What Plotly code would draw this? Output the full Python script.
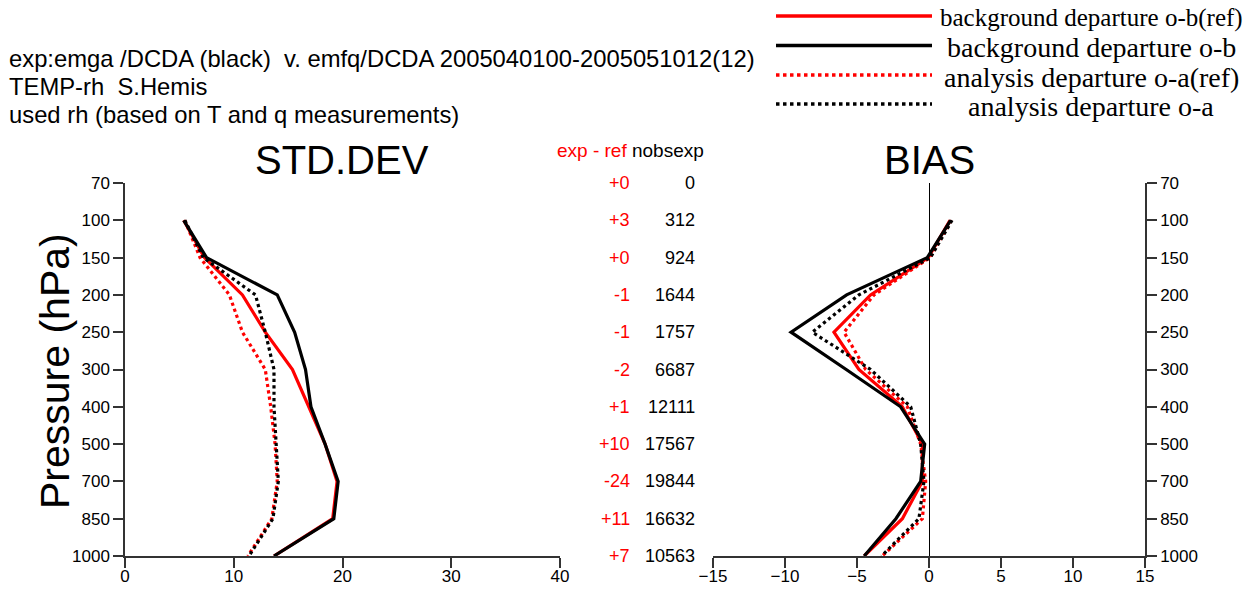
import plotly.graph_objects as go

W, H = 1253, 590

# ---- data ----
levels = ["70", "100", "150", "200", "250", "300", "400", "500", "700", "850", "1000"]
data_levels = ["100", "150", "200", "250", "300", "400", "500", "700", "850", "1000"]

std_ob_ref = [5.4, 7.3, 10.8, 12.9, 15.4, 16.9, 18.4, 19.5, 19.1, 13.7]
std_ob_exp = [5.4, 7.5, 14.0, 15.6, 16.6, 17.1, 18.4, 19.6, 19.2, 13.7]
std_oa_ref = [5.5, 6.9, 9.6, 10.8, 12.9, 13.4, 13.8, 14.0, 13.5, 11.3]
std_oa_exp = [5.5, 7.2, 12.0, 12.9, 13.7, 13.7, 13.9, 14.1, 13.6, 11.4]

bias_ob_ref = [1.46, -0.05, -4.06, -6.6, -4.87, -1.85, -0.46, -0.46, -1.85, -4.5]
bias_ob_exp = [1.5, -0.12, -5.72, -9.58, -5.75, -1.97, -0.3, -0.58, -2.3, -4.5]
bias_oa_ref = [1.55, 0.07, -3.82, -5.9, -4.4, -1.5, -0.58, -0.23, -0.46, -3.25]
bias_oa_exp = [1.6, 0.1, -4.87, -8.1, -4.06, -1.27, -0.58, -0.35, -0.7, -3.3]

exp_minus_ref = ["+0", "+3", "+0", "-1", "-1", "-2", "+1", "+10", "-24", "+11", "+7"]
nobs_exp = ["0", "312", "924", "1644", "1757", "6687", "12111", "17567", "19844", "16632", "10563"]

std_ticks = [0, 10, 20, 30, 40]
bias_ticks = [-15, -10, -5, 0, 5, 10, 15]

legend_labels = ["background departure o-b(ref)", "background departure o-b",
                 "analysis departure o-a(ref)", "analysis departure o-a"]

# ---- styling ----
RED = "#ff0000"
BLACK = "#000000"
AX = "#333333"
SANS = "Liberation Sans, Arial, sans-serif"
SERIF = "Liberation Serif, Times New Roman, serif"

yidx = [levels.index(p) for p in data_levels]

series = [
    (std_ob_ref, bias_ob_ref, RED, "solid"),
    (std_oa_ref, bias_oa_ref, RED, "dot"),
    (std_ob_exp, bias_ob_exp, BLACK, "solid"),
    (std_oa_exp, bias_oa_exp, BLACK, "dot"),
]

fig = go.Figure()
for sv, bv, col, dash in series:
    fig.add_trace(go.Scatter(x=sv, y=yidx, mode="lines", xaxis="x", yaxis="y",
                             line=dict(color=col, width=3.2, dash=dash),
                             showlegend=False, hoverinfo="skip"))
    fig.add_trace(go.Scatter(x=bv, y=yidx, mode="lines", xaxis="x2", yaxis="y2",
                             line=dict(color=col, width=3.2, dash=dash),
                             showlegend=False, hoverinfo="skip"))

def px(x):
    return x / W

def py(y):
    return 1 - y / H

ydom = [py(556), py(183)]

common_y = dict(range=[len(levels) - 1, 0], tickmode="array",
                tickvals=list(range(len(levels))), ticktext=levels,
                showline=True, linecolor=AX, linewidth=1.5,
                ticks="outside", ticklen=10, tickcolor=AX, tickwidth=1.5,
                showgrid=False, zeroline=False, automargin=False,
                tickfont=dict(family=SANS, size=17, color="#000"),
                domain=ydom, fixedrange=True)

common_x = dict(showline=True, linecolor=AX, linewidth=1.5, ticks="outside",
                ticklen=10, tickcolor=AX, tickwidth=1.5, showgrid=False,
                automargin=False, ticklabelstandoff=-6,
                tickfont=dict(family=SANS, size=17, color="#000"))

fig.update_layout(
    width=W, height=H,
    margin=dict(l=0, r=0, t=0, b=0, autoexpand=False),
    paper_bgcolor="white", plot_bgcolor="white",
    showlegend=False,
    xaxis=dict(domain=[px(125), px(560)], range=[0, 40], tickvals=std_ticks,
               zeroline=False, anchor="y", **common_x),
    yaxis=dict(anchor="x", side="left", **common_y),
    xaxis2=dict(domain=[px(713), px(1145)], range=[-15, 15], tickvals=bias_ticks,
                zeroline=True, zerolinecolor=BLACK, zerolinewidth=1, anchor="y2",
                **common_x),
    yaxis2=dict(anchor="x2", side="right", **common_y),
)

ann = []
# header
header = ["exp:emga /DCDA (black)  v. emfq/DCDA 2005040100-2005051012(12)",
          "TEMP-rh  S.Hemis",
          "used rh (based on T and q measurements)"]
for i, t in enumerate(header):
    ann.append(dict(text=t, x=px(7), y=py(58 + 28 * i), xref="paper", yref="paper",
                    xanchor="left", yanchor="middle", showarrow=False,
                    font=dict(family=SANS, size=23.8, color="#000")))
# panel titles
ann.append(dict(text="STD.DEV", x=px(342), y=py(160), xref="paper", yref="paper",
                xanchor="center", yanchor="middle", showarrow=False,
                font=dict(family=SANS, size=40, color="#000")))
ann.append(dict(text="BIAS", x=px(929), y=py(160), xref="paper", yref="paper",
                xanchor="center", yanchor="middle", showarrow=False,
                font=dict(family=SANS, size=40, color="#000")))
ann.append(dict(text="Pressure (hPa)", x=px(55), y=py(371), xref="paper", yref="paper",
                xanchor="center", yanchor="middle", textangle=-90, showarrow=False,
                font=dict(family=SANS, size=41, color="#000")))
# middle column
ann.append(dict(text="<span style='color:#ff0000'>exp - ref</span> nobsexp",
                x=px(706), y=py(150), xref="paper", yref="paper",
                xanchor="right", yanchor="middle", showarrow=False,
                font=dict(family=SANS, size=19, color="#000")))
for i, (d, n) in enumerate(zip(exp_minus_ref, nobs_exp)):
    ann.append(dict(text=d, x=px(632), y=i, xref="paper", yref="y",
                    xanchor="right", yanchor="middle", showarrow=False,
                    font=dict(family=SANS, size=18, color=RED)))
    ann.append(dict(text=n, x=px(697), y=i, xref="paper", yref="y",
                    xanchor="right", yanchor="middle", showarrow=False,
                    font=dict(family=SANS, size=18, color="#000")))

# legend
shapes = []
leg_y = [16, 45.5, 75, 104]
leg_col = [RED, BLACK, RED, BLACK]
leg_dash = ["solid", "solid", "dot", "dot"]
leg_size = [25, 28, 28, 28]
for i, lab in enumerate(legend_labels):
    shapes.append(dict(type="line", xref="paper", yref="paper",
                       x0=px(776), x1=px(932), y0=py(leg_y[i]), y1=py(leg_y[i]),
                       line=dict(color=leg_col[i], width=3.5, dash=leg_dash[i])))
    ann.append(dict(text=lab, x=px(1091), y=py(leg_y[i] + 2), xref="paper", yref="paper",
                    xanchor="center", yanchor="middle", showarrow=False,
                    font=dict(family=SERIF, size=leg_size[i], color="#000")))

fig.update_layout(annotations=ann, shapes=shapes)
fig.write_html("out.html", config={"displayModeBar": False},
               post_script="document.body.style.margin='0';document.body.style.overflow='hidden';")
